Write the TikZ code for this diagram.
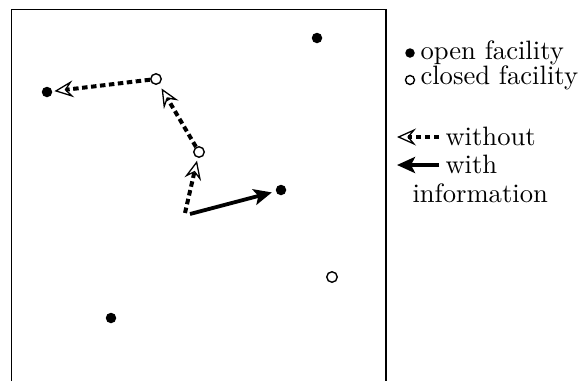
\documentclass[tikz,border=0pt]{standalone}
\usetikzlibrary{arrows.meta}
\begin{document}
\begin{tikzpicture}[x=1pt,y=-1pt,
  open/.style={circle,fill=black,inner sep=0pt,minimum size=10.5pt},
  closed/.style={circle,draw=black,line width=1.4pt,fill=white,inner sep=0pt,minimum size=10.5pt},
  lopen/.style={circle,fill=black,inner sep=0pt,minimum size=9.5pt},
  lclosed/.style={circle,draw=black,line width=1.4pt,inner sep=0pt,minimum size=9pt},
  openhead/.style={-{Stealth[open,length=19pt,width=17pt,inset=7pt,line width=1.3pt]}},
  without/.style={line width=4pt,dash pattern=on 5.5pt off 3.5pt,openhead},
  withinfo/.style={line width=3.8pt,-{Stealth[length=18pt,width=16pt,inset=4pt]}},
  lbl/.style={anchor=base west,inner sep=0pt,font=\fontsize{10}{12}\selectfont,scale=2.66}]
\useasboundingbox (0,0) rectangle (580,381);
\draw[line width=1.5pt] (11.5,381) -- (11.5,9.5) -- (386,9.5) -- (386,381);
% facilities
\node[open] (f1) at (317,38) {};
\node[open] (f2) at (47,92) {};
\node[open] (f3) at (281,190) {};
\node[open] (f4) at (111,318) {};
\node[closed] (g1) at (156,79) {};
\node[closed] (g2) at (199,152) {};
\node[closed] (g3) at (332,277) {};
\coordinate (c) at (185,213);
\coordinate (cs) at (190,214);
% paths
\draw[without,shorten >=3pt] (c) -- (g2);
\draw[without,shorten >=5pt] (g2) -- (g1);
\draw[without,shorten >=2pt] (g1) -- (f2);
\draw[withinfo,shorten >=4pt] (cs) -- (f3);
% legend
\node[lopen] (lo) at (410,53) {};
\node[lbl] (to) at (420,59) {open facility};
\node[lclosed] (lc) at (410,80) {};
\node[lbl] (tc) at (420,84) {closed facility};
\coordinate (wa) at (439,137);
\coordinate (wb) at (397,137);
\draw[line width=4pt,dash pattern=on 5.5pt off 3.5pt,openhead] (wa) -- (wb);
\node[lbl] (tw) at (445,145) {without};
\coordinate (ia) at (439,165);
\coordinate (ib) at (397,165);
\draw[withinfo] (ia) -- (ib);
\node[lbl] (ti) at (445,173) {with};
\node[lbl] (tinf) at (412,202) {information};
\end{tikzpicture}
\end{document}
